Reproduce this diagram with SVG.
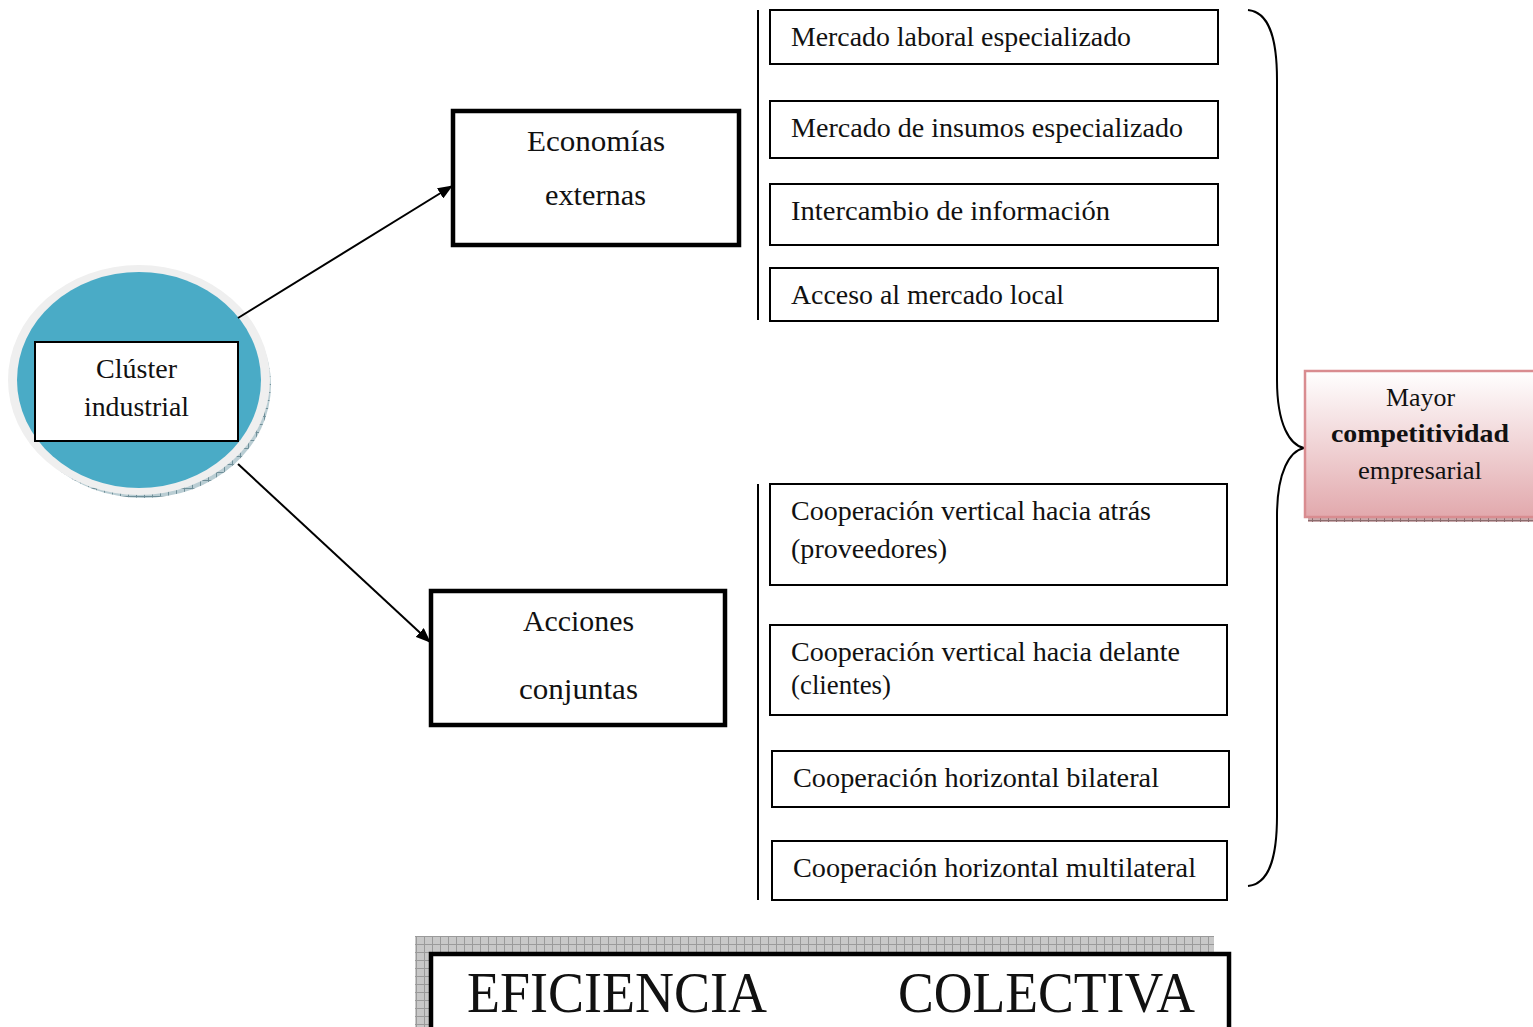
<svg xmlns="http://www.w3.org/2000/svg" width="1533" height="1027" viewBox="0 0 1533 1027">
  <defs>
    <style>
      .t { font-family: "Liberation Serif", "Times New Roman", serif; fill: #111; }
      .item { font-size: 27px; }
      .box { fill: #fff; stroke: #000; stroke-width: 2; }
      .thick { fill: #fff; stroke: #000; stroke-width: 4.5; }
      .conn { stroke: #000; stroke-width: 2; fill: none; }
    </style>
    <marker id="arrow" viewBox="0 0 15 12" refX="14" refY="6" markerWidth="15" markerHeight="12" markerUnits="userSpaceOnUse" orient="auto">
      <path d="M0,0 L15,6 L0,12 z" fill="#000"/>
    </marker>
    <pattern id="hatch" width="8" height="8" patternUnits="userSpaceOnUse">
      <rect width="8" height="8" fill="#c8c8c8"/>
      <path d="M0,0.5 H8 M0.5,0 V8" stroke="#9a9a9a" stroke-width="1"/>
    </pattern>
    <pattern id="hatchBlue" width="8" height="8" patternUnits="userSpaceOnUse">
      <rect width="8" height="8" fill="#b9cdd3"/>
      <path d="M0,0.5 H8 M0.5,0 V8" stroke="#6f8f99" stroke-width="1"/>
    </pattern>
    <pattern id="hatchPink" width="8" height="8" patternUnits="userSpaceOnUse">
      <rect width="8" height="8" fill="#c9a9ab"/>
      <path d="M0,0.5 H8 M0.5,0 V8" stroke="#8c6c6e" stroke-width="1"/>
    </pattern>
    <linearGradient id="pink" x1="0" y1="0" x2="0" y2="1">
      <stop offset="0" stop-color="#ffffff"/>
      <stop offset="1" stop-color="#e2a9ad"/>
    </linearGradient>
  </defs>

  <rect width="1533" height="1027" fill="#fff"/>

  <!-- Cluster node -->
  <g id="cluster">
    <ellipse cx="143" cy="385" rx="128" ry="113" fill="url(#hatchBlue)"/>
    <ellipse cx="139" cy="380" rx="131" ry="115" fill="#efefef"/>
    <ellipse cx="139" cy="380" rx="122" ry="108" fill="#4aabc6"/>
    <rect class="box" x="35" y="342" width="203" height="99"/>
    <text class="t" x="96" y="378" font-size="27" textLength="81" lengthAdjust="spacingAndGlyphs">Clúster</text>
    <text class="t" x="84" y="416" font-size="27" textLength="105" lengthAdjust="spacingAndGlyphs">industrial</text>
  </g>

  <!-- Connectors -->
  <g id="connectors">
    <line class="conn" x1="238" y1="318" x2="452" y2="186" marker-end="url(#arrow)"/>
    <line class="conn" x1="238" y1="464" x2="430" y2="642" marker-end="url(#arrow)"/>
    <line class="conn" x1="758" y1="10" x2="758" y2="320"/>
    <line class="conn" x1="758" y1="484" x2="758" y2="900"/>
    <path class="conn" d="M1248,10 C1268,12 1277,35 1277,80 L1277,380 C1277,425 1290,445 1304,448 C1290,451 1277,471 1277,516 L1277,816 C1277,861 1268,884 1248,886"/>
  </g>

  <!-- Economías externas -->
  <g id="economias">
    <rect class="thick" x="453" y="111" width="286" height="134"/>
    <text class="t" x="527" y="151" font-size="29" textLength="138" lengthAdjust="spacingAndGlyphs">Economías</text>
    <text class="t" x="545" y="205" font-size="29" textLength="101" lengthAdjust="spacingAndGlyphs">externas</text>
  </g>

  <!-- Acciones conjuntas -->
  <g id="acciones">
    <rect class="thick" x="431" y="591" width="294" height="134"/>
    <text class="t" x="523" y="631" font-size="29" textLength="111" lengthAdjust="spacingAndGlyphs">Acciones</text>
    <text class="t" x="519" y="699" font-size="29" textLength="119" lengthAdjust="spacingAndGlyphs">conjuntas</text>
  </g>

  <!-- External economies items -->
  <g id="item-laboral">
    <rect class="box" x="770" y="10" width="448" height="54"/>
    <text class="t item" x="791" y="46" textLength="340" lengthAdjust="spacingAndGlyphs">Mercado laboral especializado</text>
  </g>
  <g id="item-insumos">
    <rect class="box" x="770" y="101" width="448" height="57"/>
    <text class="t item" x="791" y="137" textLength="392" lengthAdjust="spacingAndGlyphs">Mercado de insumos especializado</text>
  </g>
  <g id="item-informacion">
    <rect class="box" x="770" y="184" width="448" height="61"/>
    <text class="t item" x="791" y="220" textLength="319" lengthAdjust="spacingAndGlyphs">Intercambio de información</text>
  </g>
  <g id="item-mercado-local">
    <rect class="box" x="770" y="268" width="448" height="53"/>
    <text class="t item" x="791" y="304" textLength="273" lengthAdjust="spacingAndGlyphs">Acceso al mercado local</text>
  </g>

  <!-- Joint action items -->
  <g id="item-atras">
    <rect class="box" x="770" y="484" width="457" height="101"/>
    <text class="t item" x="791" y="520" textLength="360" lengthAdjust="spacingAndGlyphs">Cooperación vertical hacia atrás</text>
    <text class="t item" x="791" y="558" textLength="156" lengthAdjust="spacingAndGlyphs">(proveedores)</text>
  </g>
  <g id="item-delante">
    <rect class="box" x="770" y="625" width="457" height="90"/>
    <text class="t item" x="791" y="661" textLength="389" lengthAdjust="spacingAndGlyphs">Cooperación vertical hacia delante</text>
    <text class="t item" x="791" y="694" textLength="100" lengthAdjust="spacingAndGlyphs">(clientes)</text>
  </g>
  <g id="item-bilateral">
    <rect class="box" x="772" y="751" width="457" height="56"/>
    <text class="t item" x="793" y="787" textLength="366" lengthAdjust="spacingAndGlyphs">Cooperación horizontal bilateral</text>
  </g>
  <g id="item-multilateral">
    <rect class="box" x="772" y="841" width="455" height="59"/>
    <text class="t item" x="793" y="877" textLength="403" lengthAdjust="spacingAndGlyphs">Cooperación horizontal multilateral</text>
  </g>

  <!-- Outcome -->
  <g id="competitividad">
    <rect x="1308" y="515" width="230" height="7" fill="url(#hatchPink)"/>
    <rect x="1305" y="371" width="235" height="146" fill="url(#pink)" stroke="#d98c90" stroke-width="2.5"/>
    <text class="t" x="1386" y="406" font-size="25" textLength="69" lengthAdjust="spacingAndGlyphs">Mayor</text>
    <text class="t" x="1331" y="442" font-size="25" font-weight="bold" textLength="178" lengthAdjust="spacingAndGlyphs">competitividad</text>
    <text class="t" x="1358" y="479" font-size="25" textLength="124" lengthAdjust="spacingAndGlyphs">empresarial</text>
  </g>

  <!-- Collective efficiency banner -->
  <g id="eficiencia">
    <rect x="415" y="936" width="799" height="91" fill="url(#hatch)"/>
    <rect class="thick" x="431" y="954" width="798" height="80"/>
    <text class="t" x="467" y="1012" font-size="56" textLength="300" lengthAdjust="spacingAndGlyphs">EFICIENCIA</text>
    <text class="t" x="898" y="1012" font-size="56" textLength="297" lengthAdjust="spacingAndGlyphs">COLECTIVA</text>
  </g>
</svg>
